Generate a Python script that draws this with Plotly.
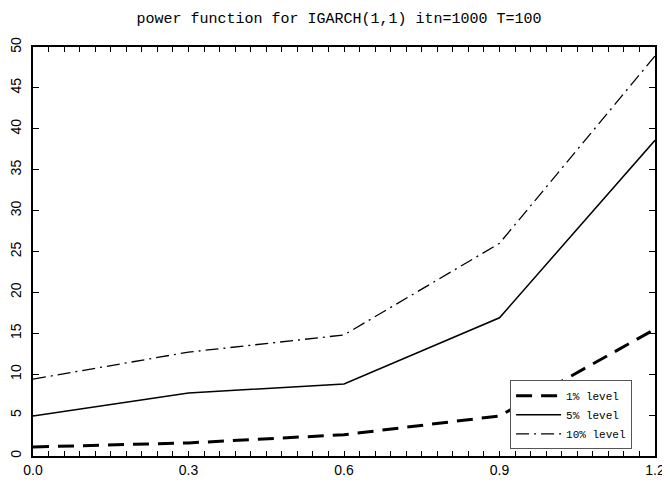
import plotly.graph_objects as go

x_vals = [0.0, 0.3, 0.6, 0.9, 1.2]
level_1 = [1.1, 1.6, 2.6, 4.9, 15.5]
level_5 = [4.9, 7.7, 8.8, 16.9, 38.6]
level_10 = [9.4, 12.7, 14.8, 26.0, 48.9]
series_names = ["1% level", "5% level", "10% level"]
x_tick_labels = ["0.0", "0.3", "0.6", "0.9", "1.2"]
x_minor_ticks = [round(i * 0.03, 2) for i in range(41)]
title_text = "power function for IGARCH(1,1) itn=1000 T=100"

fig = go.Figure()
fig.add_trace(go.Scatter(x=x_vals, y=level_1, mode="lines", name=series_names[0],
                         line=dict(color="black", width=3, dash="16px,9px")))
fig.add_trace(go.Scatter(x=x_vals, y=level_5, mode="lines", name=series_names[1],
                         line=dict(color="black", width=1.5)))
fig.add_trace(go.Scatter(x=x_vals, y=level_10, mode="lines", name=series_names[2],
                         line=dict(color="black", width=1.3, dash="13px,5px,2px,5px")))

tick_font = dict(family="Liberation Sans, Arial", size=14, color="black")

fig.update_xaxes(range=[0, 1.2], tickmode="array", tickvals=x_vals, ticktext=x_tick_labels,
                 showgrid=False, zeroline=False, showline=True, linecolor="black", linewidth=2,
                 mirror="allticks", ticks="inside", ticklen=5, tickwidth=1, tickcolor="black",
                 tickfont=tick_font,
                 minor=dict(tickmode="array", tickvals=x_minor_ticks,
                            ticks="inside", ticklen=5, tickcolor="black", tickwidth=1,
                            showgrid=False))
fig.update_yaxes(range=[0, 50], tickmode="linear", dtick=5, tick0=0, tickangle=-90,
                 showgrid=False, zeroline=False, showline=True, linecolor="black", linewidth=2,
                 mirror="allticks", ticks="inside", ticklen=6, tickwidth=1, tickcolor="black",
                 tickfont=tick_font, ticklabelstandoff=4)

# page body has an 8px margin: shrink the figure so the drawing lands where the reference has it
fig.update_layout(
    template="none",
    width=662, height=475,
    margin=dict(l=25, r=15, t=39, b=27),
    paper_bgcolor="white", plot_bgcolor="white",
    title=dict(text=title_text, x=0.5, xanchor="center", y=1 - 10 / 475, yanchor="middle",
               font=dict(family="Liberation Mono, DejaVu Sans Mono", size=15, color="black")),
    showlegend=True,
    legend=dict(x=0.767, y=0.185, xanchor="left", yanchor="top",
                bordercolor="#555555", borderwidth=1, bgcolor="white",
                font=dict(family="Liberation Mono, DejaVu Sans Mono", size=11, color="black"),
                tracegroupgap=0, itemwidth=45),
)

fig.write_html("out.html")
